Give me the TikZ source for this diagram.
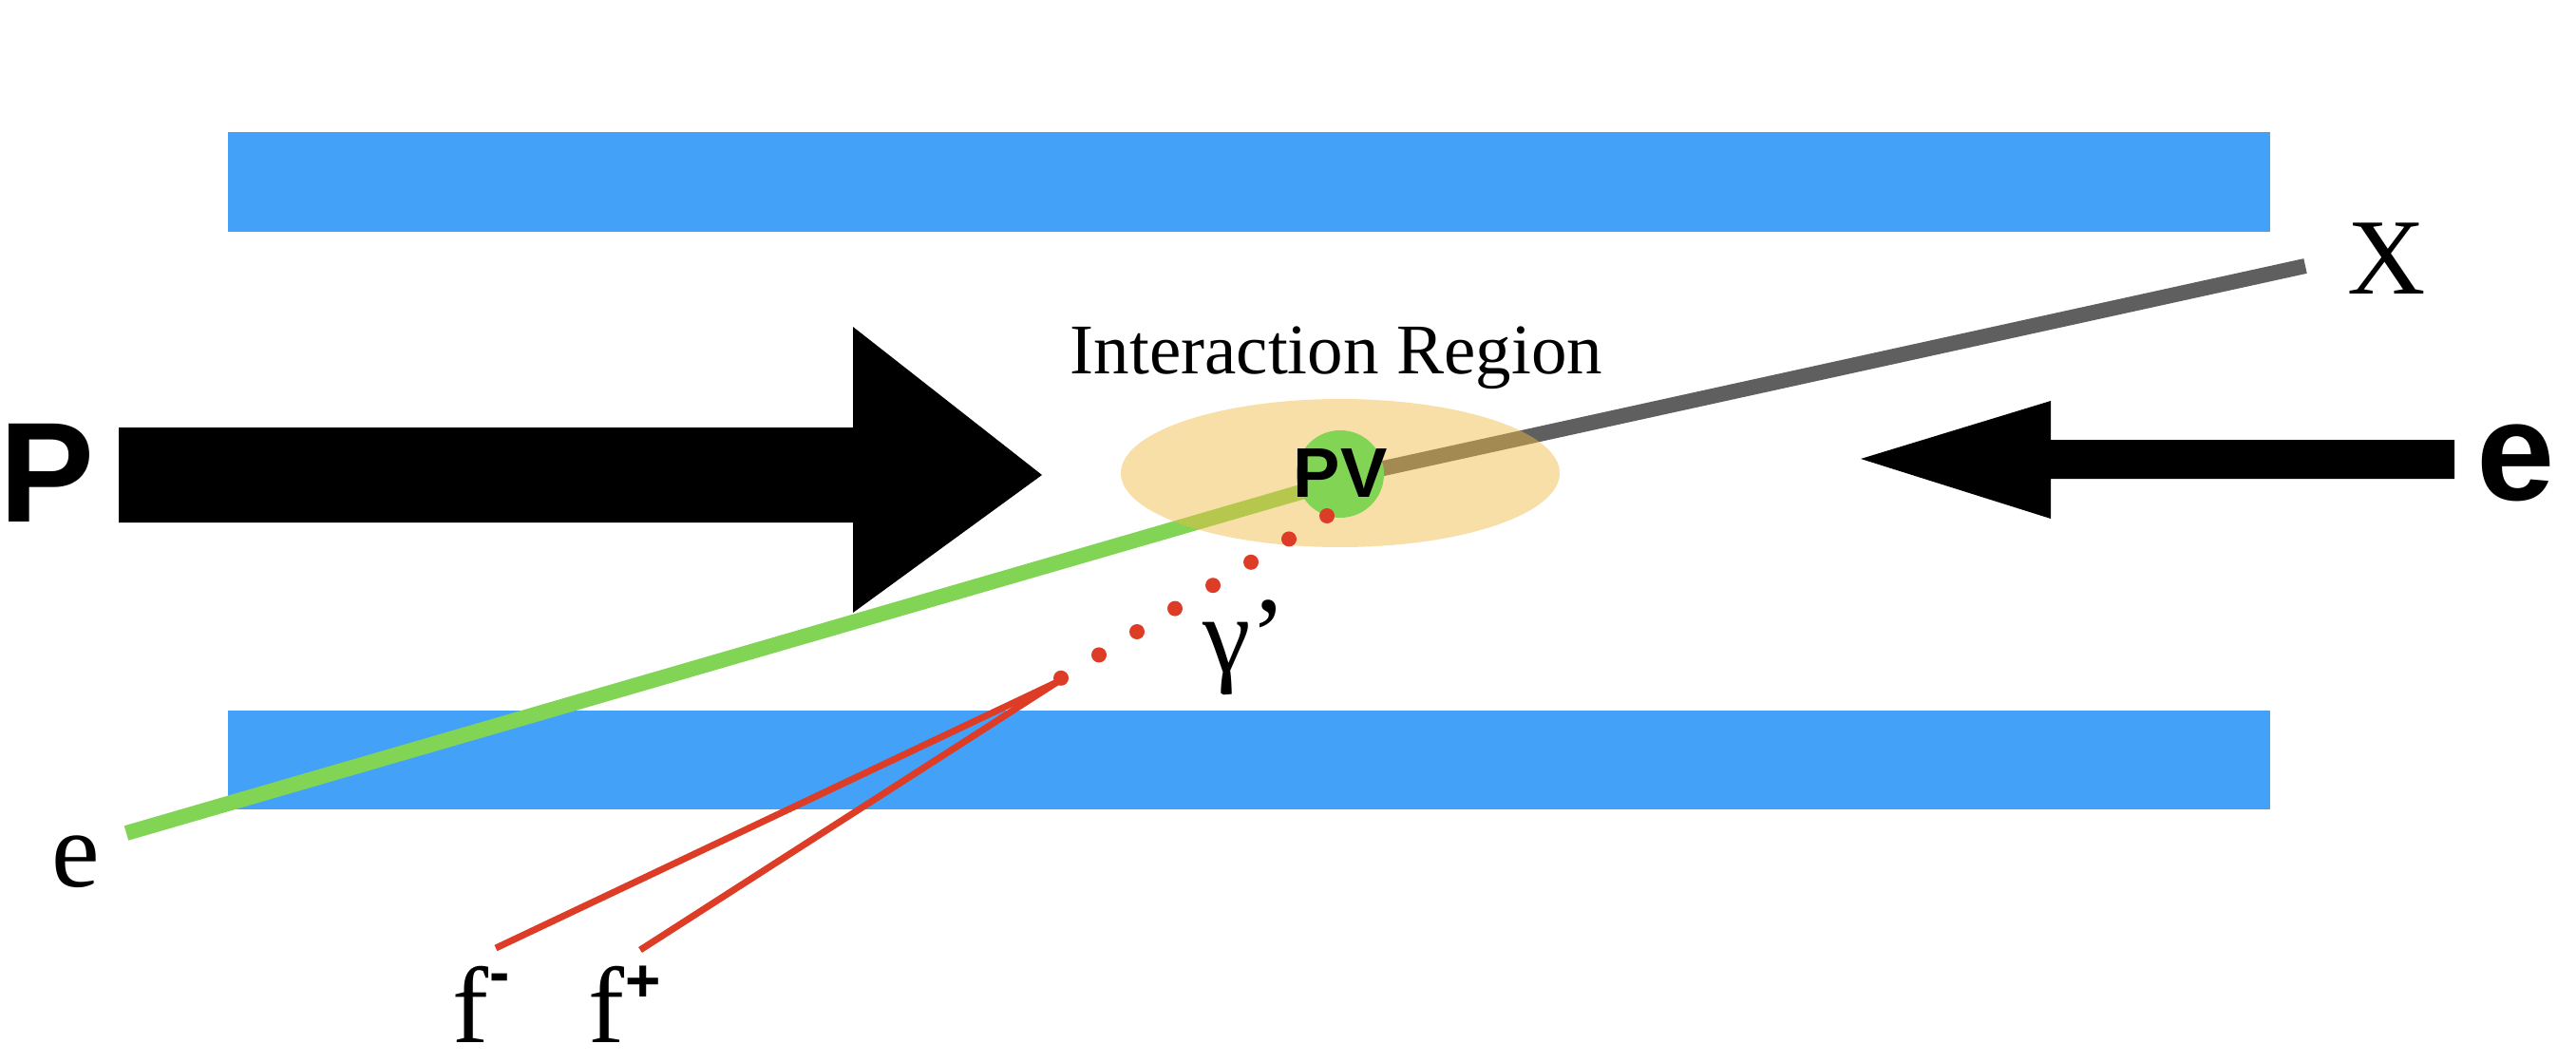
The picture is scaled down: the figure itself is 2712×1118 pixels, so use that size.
\documentclass[tikz,border=0pt]{standalone}
\usepackage{fontspec}
\setmainfont{Liberation Serif}
\newfontfamily\hsans{Liberation Sans}
\definecolor{barblue}{RGB}{67,161,247}
\definecolor{trkgreen}{RGB}{130,212,85}
\definecolor{trkgray}{RGB}{95,95,95}
\definecolor{trkred}{RGB}{221,60,39}
\definecolor{regorange}{RGB}{240,187,70}
\tikzset{
  bar/.style={fill=barblue},
  bigarrow/.style={fill=black},
  track/.style={line width=8pt},
  ftrack/.style={line width=3.5pt, draw=trkred},
  dot/.style={fill=trkred},
  serif/.style={inner sep=0pt, font=\fontsize{57}{60}\selectfont},
  boldsans/.style={inner sep=0pt, font=\hsans\bfseries\fontsize{75}{80}\selectfont},
  supsans/.style={inner sep=0pt, font=\hsans\bfseries\fontsize{32}{34}\selectfont}
}
\begin{document}
\begin{tikzpicture}[x=0.5pt,y=-0.5pt]
\useasboundingbox (0,0) rectangle (2712,1118);
% detector bars
\fill[bar] (240,139) rectangle (2390,244);
\fill[bar] (240,748) rectangle (2390,852);
% beam arrows
\fill[bigarrow] (125,450) -- (898,450) -- (898,344) -- (1097,500) -- (898,645) -- (898,550) -- (125,550) -- cycle;
\fill[bigarrow] (2584,463) -- (2159,463) -- (2159,422) -- (1959,483) -- (2159,546) -- (2159,504) -- (2584,504) -- cycle;
% coordinates
\coordinate (pv) at (1411,499);
\coordinate (eend) at (133,877);
\coordinate (gend) at (1411,506);
\coordinate (xstart) at (1411,503);
\coordinate (xend) at (2427,280);
\coordinate (split) at (1113,718);
\coordinate (fmend) at (522,998);
\coordinate (fpend) at (674,1000);
% tracks
\draw[track, trkgreen] (eend) -- (gend);
\draw[track, trkgray] (xstart) -- (xend);
\draw[ftrack] (split) -- (fmend);
\draw[ftrack] (split) -- (fpend);
% interaction region
\fill[regorange, fill opacity=0.47] (1411,498) ellipse [x radius=115.5pt, y radius=39pt];
% primary vertex
\fill[trkgreen] (pv) circle [radius=23pt];
% gamma' dots
\foreach \i in {0,...,7} {
  \fill[dot] ({1397-40*\i},{543+24.4*\i}) circle [radius=4pt];
}
\node[inner sep=0pt, font=\hsans\bfseries\fontsize{37}{40}\selectfont] (pvl) at (1411,498) {PV};
% labels
\node[inner sep=0pt, anchor=base, font=\fontsize{37.5}{40}\selectfont] (ir) at (1407,393) {Interaction Region};
\node[serif, anchor=base] (xl) at (2513,309) {X};
\node[serif, anchor=base] (el) at (80,933) {e};
\node[serif, anchor=base west] (gl) at (1266,707) {γ’};
\node[serif, anchor=base west] (fm) at (476,1097) {f};
\node[serif, anchor=base west] (fp) at (619,1097) {f};
\node[supsans] (fms) at (526,1035) {-};
\node[supsans] (fps) at (677,1036) {+};
\node[boldsans, anchor=base] (pl) at (50,549) {P};
\node[boldsans, anchor=base, font=\hsans\bfseries\fontsize{74}{80}\selectfont] (er) at (2649,526) {e};
\end{tikzpicture}
\end{document}
